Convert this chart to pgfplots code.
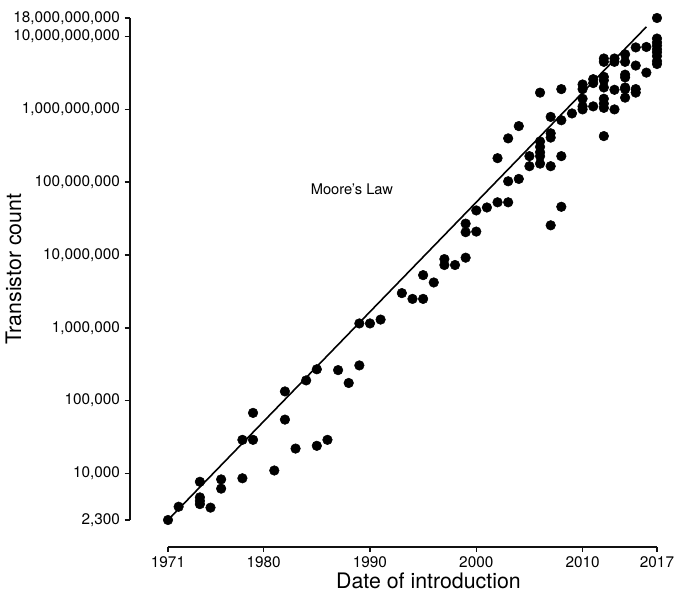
\documentclass[border=0pt]{standalone}
\usepackage{fontspec}
\setmainfont{TeX Gyre Heros}
\usepackage{pgfplots}
\pgfplotsset{compat=1.18}
\definecolor{axisink}{HTML}{111111}

% transistor counts (year, count)
\pgfplotstableread{
x y
1971 2300
1972 3500
1974 7700
1974 4700
1974 4200
1974 3800
1975 3400
1976 8300
1976 6200
1978 8600
1978 29000
1979 29000
1979 68000
1981 11000
1982 134000
1982 55000
1983 22000
1984 190000
1985 24000
1985 270000
1986 29000
1987 263000
1988 175000
1989 305000
1989 1150000
1990 1150000
1991 1300000
1993 3000000
1994 2500000
1995 5300000
1995 2500000
1996 4200000
1997 8800000
1997 7300000
1998 7300000
1999 9200000
1999 27000000
1999 20600000
2000 21000000
2000 41000000
2001 45000000
2002 53000000
2002 214000000
2003 53000000
2003 103000000
2003 400000000
2004 111000000
2004 590000000
2005 228000000
2005 166000000
2006 1.7e9
2006 3.63e8
2006 3.06e8
2006 2.58e8
2006 2.28e8
2006 1.80e8
2007 7.9e8
2007 4.7e8
2007 4.1e8
2007 1.66e8
2007 2.56e7
2008 1.9e9
2008 7.1e8
2008 2.28e8
2008 4.6e7
2009 8.8e8
2010 2.2e9
2010 1.9e9
2010 1.4e9
2010 1.1e9
2010 1.0e9
2011 2.6e9
2011 2.3e9
2011 1.1e9
2012 5.0e9
2012 4.5e9
2012 2.8e9
2012 2.5e9
2012 2.0e9
2012 1.4e9
2012 1.2e9
2012 1.05e9
2012 4.3e8
2013 5.0e9
2013 4.5e9
2013 1.86e9
2013 1.0e9
2014 5.7e9
2014 4.5e9
2014 3.0e9
2014 2.75e9
2014 2.0e9
2014 1.9e9
2014 1.45e9
2015 7.1e9
2015 4.0e9
2015 1.9e9
2015 1.7e9
2016 7.2e9
2016 3.2e9
2017 1.8e10
2017 9.4e9
2017 8.3e9
2017 7.5e9
2017 6.7e9
2017 6.1e9
2017 5.4e9
2017 4.6e9
2017 4.2e9
}\chips

\begin{document}
\begin{tikzpicture}
\path[use as bounding box] (-126pt,-54pt) rectangle (388.5pt,390pt);
\begin{axis}[
  scale only axis, width=366.75pt, height=376.5pt,
  ymode=log, log basis y=10,
  xmin=1971, xmax=2017, ymin=2300, ymax=1.8e10,
  clip=false,
  axis lines=left,
  axis x line shift=20pt, axis y line shift=28.5pt,
  axis line style={-, draw=axisink, line width=1.4pt},
  xtick={1971,1980,1990,2000,2010,2017},
  xticklabels={1971,1980,1990,2000,2010,2017},
  ytick={2300,1e4,1e5,1e6,1e7,1e8,1e9,1e10,1.8e10},
  yticklabels={{2,300},{10,000},{100,000},{1,000,000},{10,000,000},{100,000,000},{1,000,000,000},{10,000,000,000},{18,000,000,000}},
  minor tick num=0,
  tick align=outside, major tick length=4pt,
  every tick/.style={axisink, line width=1.1pt},
  tick label style={font=\fontsize{11.5}{13}\selectfont},
  xlabel={Date of introduction}, ylabel={Transistor count},
  label style={font=\fontsize{16}{18}\selectfont},
  xlabel style={yshift=3pt, xshift=12pt},
  ylabel style={yshift=-13pt},
]
\addplot[black, line width=1.2pt] coordinates {(1971,2300) (2016,1.36e10)};
\addplot[only marks, mark=*, mark size=3.6pt, black] table {\chips};
\node[anchor=center, font=\fontsize{11}{13}\selectfont] at (axis cs:1988.3,8.1e7) {Moore's Law};
\end{axis}
\end{tikzpicture}
\end{document}
